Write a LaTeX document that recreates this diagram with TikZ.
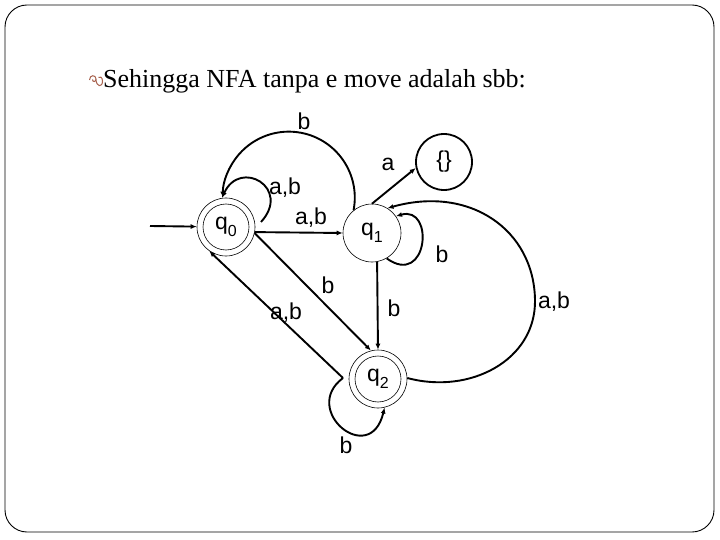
\documentclass[tikz,border=0pt]{standalone}
\usepackage{fontspec}
\setmainfont{Liberation Serif}
\setsansfont{Liberation Sans}
\usetikzlibrary{arrows.meta,calc}
\definecolor{bulletbrown}{RGB}{168,98,78}
\newcommand{\qsub}[1]{q\raisebox{-0.28em}{\fontsize{16}{16}\selectfont #1}}
\begin{document}
\begin{tikzpicture}[x=1pt,y=1pt,
  statebox/.style={circle,draw,line width=0.6pt,minimum size=58pt,inner sep=0pt,
    font=\sffamily\fontsize{23}{23}\selectfont},
  emptybox/.style={circle,draw,line width=1.8pt,minimum size=56pt,inner sep=0pt,
    font=\sffamily\fontsize{23}{23}\selectfont},
  innerring/.style={line width=0.6pt},
  edge/.style={line width=1.9pt,-{Latex[length=6pt,width=5pt]}},
  lbl/.style={font=\sffamily\fontsize{23}{23}\selectfont,inner sep=0pt}]
\useasboundingbox (0,0) rectangle (720,-540);
\fill[white] (0,0) rectangle (720,-540);
\draw[line width=0.9pt,rounded corners=22pt] (5,-5) rectangle (714,-532);

% title
\node[anchor=base west,inner sep=0pt,font=\fontsize{26}{26}\selectfont] (title) at (103,-88) {Sehingga NFA tanpa e move adalah sbb:};
\draw[bulletbrown,line width=1pt]
  (89.5,-80) .. controls (89.5,-74.5) and (96,-74.5) .. (96,-79)
  .. controls (96,-82) and (92.5,-82.5) .. (92.5,-79.5)
  (96,-79) .. controls (96,-87) and (102.5,-88) .. (102.5,-81)
  .. controls (102.5,-77) and (99.5,-76) .. (98.5,-77.5);

% states
\node[statebox] (q0) at (226,-227) {\qsub{0}};
\node[statebox] (q1) at (372,-233) {\qsub{1}};
\node[emptybox] (E) at (444,-162) {\{\}};
\node[statebox] (q2) at (378,-379) {\qsub{2}};
\draw[innerring] (q0) circle (23pt);
\draw[innerring] (q2) circle (23pt);

\coordinate (start) at (150,-226);
\coordinate (q0r) at (261,-222);
\coordinate (q2l) at (343,-378);

% start arrow
\draw[edge] (start) -- (q0);

% q0 self loop a,b
\draw[edge] (q0r) .. controls (292,-188) and (240,-158) .. (q0.98);
\node[lbl] (l1) at (285,-188) {a,b};

% q1 -> q0 b (big arc)
\draw[edge] (q1.129) arc[start angle=-11,end angle=180,radius=66pt];
\node[lbl] (l2) at (304,-121) {b};

% q0 -> q1 a,b
\draw[edge] (q0.-10) -- (q1.180);
\node[lbl] (l3) at (311,-218) {a,b};

% q1 -> {} a
\draw[edge] (q1.90) -- (E.192);
\node[lbl] (l4) at (388,-164) {a};

% q1 self loop b
\draw[edge] (q1.-60) .. controls (428,-288) and (435,-205) .. (q1.35);
\node[lbl] (l5) at (442,-254) {b};

% q2 -> q1 a,b
\draw[edge] (q2.2) .. controls (470,-395) and (536,-360) .. (535,-300)
  .. controls (534,-230) and (470,-185) .. (q1.58);
\node[lbl] (l6) at (554,-302) {a,b};

% q0 -> q2 b
\draw[edge] (q0.-12) -- (q2.104);
\node[lbl] (l7) at (328,-285) {b};

% q1 -> q2 b
\draw[edge] (q1.-80) -- (q2.90);
\node[lbl] (l8) at (394,-308) {b};

% q2 -> q0 a,b
\draw[edge] (q2l) -- (q0.235);
\node[lbl] (l9) at (286,-313) {a,b};

% q2 self loop b
\draw[edge] (q2l) .. controls (300,-410) and (370,-468) .. (q2.-77);
\node[lbl] (l10) at (346,-445) {b};
\end{tikzpicture}
\end{document}
